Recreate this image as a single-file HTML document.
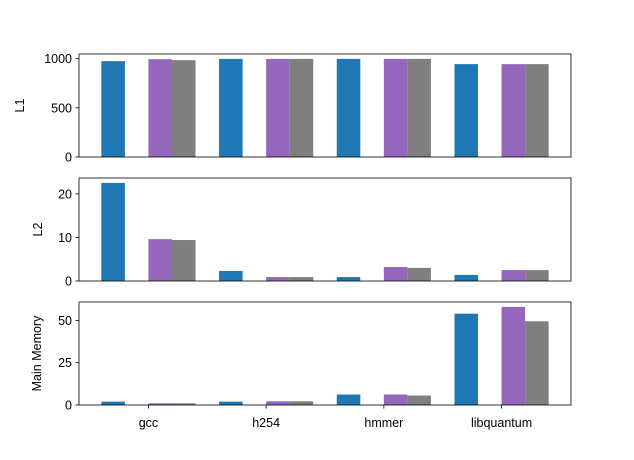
<!DOCTYPE html>
<html><head><meta charset="utf-8"><style>
body{margin:0;background:#fff;}
svg text{font-family:"Liberation Sans","DejaVu Sans",sans-serif;font-size:12.5px;fill:#000;}
</style></head><body>
<svg id="chart" width="634" height="455"></svg>
<script>
const categories=["gcc","h254","hmmer","libquantum"];
const l1Blue=[975,998,998,945];
const l1Purple=[995,998,998,945];
const l1Gray=[985,998,998,945];
const l2Blue=[22.5,2.3,0.9,1.4];
const l2Purple=[9.6,0.9,3.2,2.5];
const l2Gray=[9.4,0.9,3.0,2.5];
const memBlue=[2,2,6.2,54];
const memPurple=[1,2.2,6.2,58];
const memGray=[1,2.2,5.6,49.5];
const l1Ticks=[0,500,1000];
const l2Ticks=[0,10,20];
const memTicks=[0,25,50];

const NS="http://www.w3.org/2000/svg";
const svg=document.getElementById('chart');
function mk(t,a,p){const e=document.createElementNS(NS,t);for(const k in a)e.setAttribute(k,a[k]);(p||svg).appendChild(e);return e;}
const L=79,R=571,xmin=-0.59,xmax=3.59;
function xs(v){return L+(v-xmin)/(xmax-xmin)*(R-L);}
const panels=[
 {name:"l1",top:54,bot:157,title:"L1",tx:24,series:[l1Blue,l1Purple,l1Gray],ticks:l1Ticks},
 {name:"l2",top:178,bot:281,title:"L2",tx:42,series:[l2Blue,l2Purple,l2Gray],ticks:l2Ticks},
 {name:"main-memory",top:302,bot:405,title:"Main Memory",tx:41,series:[memBlue,memPurple,memGray],ticks:memTicks}
];
const colors=["#1f77b4","#9467bd","#7f7f7f"];
const offs=[-0.3,0.1,0.3];
const snames=["blue","purple","gray"];
panels.forEach((p,pi)=>{
 let mx=0;p.series.forEach(s=>s.forEach(v=>{if(v>mx)mx=v;}));
 const ymax=mx*1.05;
 const ys=v=>p.bot-(v/ymax)*(p.bot-p.top);
 const g=mk('g',{});
 
 
 p.series.forEach((s,si)=>{
  s.forEach((v,ci)=>{
   const x0=xs(ci+offs[si]-0.1),x1=xs(ci+offs[si]+0.1);
   const r=mk('rect',{x:x0,y:ys(v),width:x1-x0,height:p.bot-ys(v),fill:colors[si]},g);
   
   
  });
 });
 const fr=mk('rect',{x:L,y:p.top,width:R-L,height:p.bot-p.top,fill:'none',stroke:'#000','stroke-width':0.8},g);
 
 
 p.ticks.forEach(t=>{
  const y=ys(t);
  mk('line',{x1:L-3.5,x2:L,y1:y,y2:y,stroke:'#000','stroke-width':0.8},g);
  const tx=mk('text',{x:L-7,y:y+4.5,'text-anchor':'end'},g);
  tx.textContent=t;
  
  
 });
 const yt=mk('text',{x:0,y:0,'text-anchor':'middle',transform:`translate(${p.tx},${(p.top+p.bot)/2}) rotate(-90)`},g);
 yt.textContent=p.title;
 
 
 if(pi==2){
  categories.forEach((c,ci)=>{
   const x=xs(ci);
   mk('line',{x1:x,x2:x,y1:p.bot,y2:p.bot+3.5,stroke:'#000','stroke-width':0.8},g);
   const tx=mk('text',{x:x,y:p.bot+22,'text-anchor':'middle'},g);
   tx.textContent=c;
   
   
  });
 }
});
</script>
</body></html>
